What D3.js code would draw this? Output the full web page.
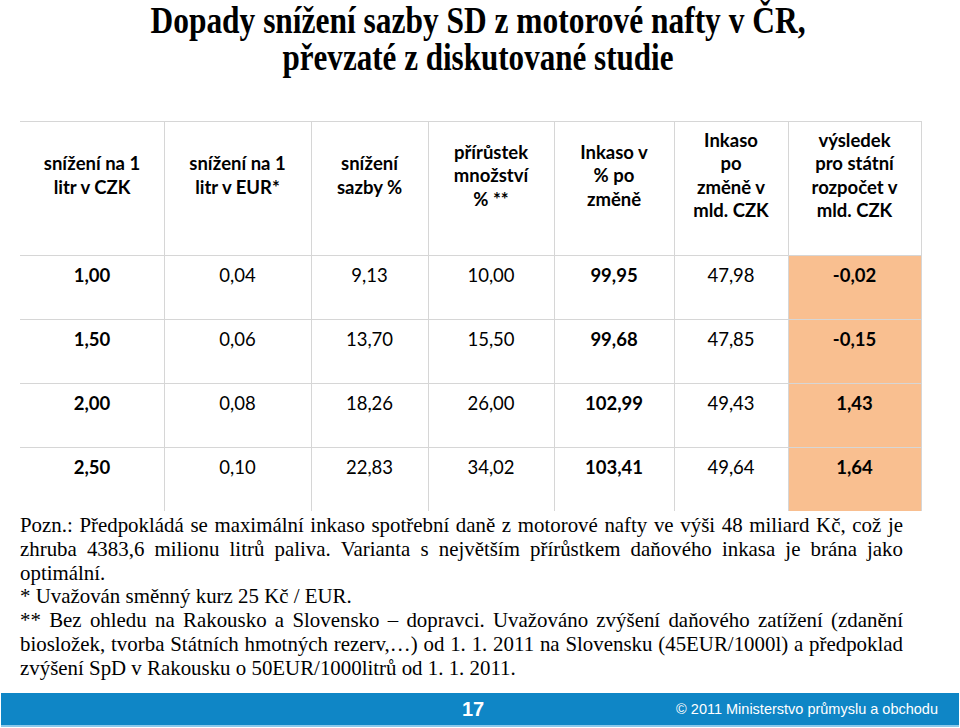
<!DOCTYPE html>
<html><head><meta charset="utf-8">
<script src="https://cdn.jsdelivr.net/npm/d3@7"></script>
<style>body{margin:0;background:#fff}svg{display:block}</style>
</head><body><div id="c"></div>
<script>
// ---------- data ----------
const titleLines = ["Dopady snížení sazby SD z motorové nafty v ČR,", "převzaté z diskutované studie"];
const headers = [
  ["snížení na 1", "litr v CZK"],
  ["snížení na 1", "litr v EUR*"],
  ["snížení", "sazby %"],
  ["přírůstek", "množství", "% **"],
  ["Inkaso v", "% po", "změně"],
  ["Inkaso", "po", "změně v", "mld. CZK"],
  ["výsledek", "pro státní", "rozpočet v", "mld. CZK"]
];
const reductionCZK     = [1.00, 1.50, 2.00, 2.50];
const reductionEUR     = [0.04, 0.06, 0.08, 0.10];
const rateReductionPct = [9.13, 13.70, 18.26, 22.83];
const volumeGrowthPct  = [10.00, 15.50, 26.00, 34.02];
const revenuePct       = [99.95, 99.68, 102.99, 103.41];
const revenueBn        = [47.98, 47.85, 49.43, 49.64];
const budgetResult     = [-0.02, -0.15, 1.43, 1.64];
const boldColumns      = [true, false, false, false, true, false, true];
const noteLines = [
  {text: "Pozn.: Předpokládá se maximální inkaso spotřební daně z motorové nafty ve výši 48 miliard Kč, což je", justify: true},
  {text: "zhruba 4383,6 milionu litrů paliva. Varianta s největším přírůstkem daňového inkasa je brána jako", justify: true},
  {text: "optimální.", justify: false},
  {text: "* Uvažován směnný kurz 25 Kč / EUR.", justify: false},
  {text: "** Bez ohledu na Rakousko a Slovensko – dopravci. Uvažováno zvýšení daňového zatížení (zdanění", justify: true},
  {text: "biosložek, tvorba Státních hmotných rezerv,…) od 1. 1. 2011 na Slovensku (45EUR/1000l) a předpoklad", justify: true},
  {text: "zvýšení SpD v Rakousku o 50EUR/1000litrů od 1. 1. 2011.", justify: false}
];
const pageNumber = "17";
const copyright = "© 2011 Ministerstvo průmyslu a obchodu";

// ---------- layout ----------
const W = 960, H = 728;
const colEdges = [20, 164, 311, 428, 554, 674, 788, 921];
const tableTop = 121, headerBottom = 255, tableBottom = 511;
const gridColor = "#d6d6d6";
const highlight = "#f9bf90";

const columns = [reductionCZK, reductionEUR, rateReductionPct, volumeGrowthPct, revenuePct, revenueBn, budgetResult];
const fmt = d3.formatLocale({decimal: ",", thousands: " ", grouping: [3], currency: ["", " Kč"], minus: "-"}).format(".2f");

const svg = d3.select("#c").append("svg").attr("width", W).attr("height", H);
svg.append("rect").attr("width", W).attr("height", H).attr("fill", "#fff");

// title
const titleG = svg.append("g").attr("font-family", "'Liberation Serif','Times New Roman',serif")
  .attr("font-weight", "bold").attr("font-size", 37).attr("fill", "#000");
const titleSpec = [{y: 33, len: 655}, {y: 70, len: 391}];
titleLines.forEach((t, i) => {
  titleG.append("text").attr("x", 478).attr("y", titleSpec[i].y).attr("text-anchor", "middle")
    .attr("textLength", titleSpec[i].len).attr("lengthAdjust", "spacingAndGlyphs").text(t);
});

// scales
const rows = d3.scaleBand().domain(d3.range(reductionCZK.length)).range([headerBottom, tableBottom]);
const colIdx = d3.range(columns.length);
const colLeft = i => colEdges[i], colRight = i => colEdges[i + 1];
const colMid = i => (colEdges[i] + colEdges[i + 1]) / 2;

// highlight column
svg.append("rect").attr("x", colLeft(6)).attr("y", headerBottom)
  .attr("width", colRight(6) - colLeft(6)).attr("height", tableBottom - headerBottom).attr("fill", highlight);

// grid
const grid = svg.append("g").attr("stroke", gridColor).attr("stroke-width", 1).attr("shape-rendering", "crispEdges");
[tableTop, headerBottom, ...rows.domain().slice(1).map(r => rows(r))].forEach(y => {
  grid.append("line").attr("x1", colEdges[0]).attr("x2", colEdges[colEdges.length - 1]).attr("y1", y + 0.5).attr("y2", y + 0.5);
});
colEdges.slice(1).forEach(x => {
  grid.append("line").attr("x1", x + 0.5).attr("x2", x + 0.5).attr("y1", tableTop).attr("y2", tableBottom);
});

// header text
const hg = svg.append("g").attr("font-family", "Lato,'Open Sans',sans-serif").attr("font-weight", "bold")
  .attr("font-size", 18.5).attr("fill", "#000").attr("text-anchor", "middle");
const lineH = 23.5, headerMid = 176;
headers.forEach((lines, i) => {
  const t = hg.append("text").attr("x", colMid(i));
  lines.forEach((ln, k) => {
    t.append("tspan").attr("x", colMid(i))
      .attr("y", headerMid + (k - (lines.length - 1) / 2) * lineH + 6).text(ln);
  });
});

// body text
const bg = svg.append("g").attr("font-family", "Lato,'Open Sans',sans-serif")
  .attr("font-size", 18.5).attr("fill", "#000").attr("text-anchor", "middle");
colIdx.forEach(i => {
  bg.selectAll(null).data(columns[i]).join("text")
    .attr("x", colMid(i))
    .attr("y", (d, r) => rows(r) + 27)
    .attr("font-weight", boldColumns[i] ? "bold" : "normal")
    .text(d => fmt(d));
});

// notes
const sx = 0.95;
const ng = svg.append("g").attr("transform", `scale(${sx},1)`)
  .attr("font-family", "'Liberation Serif','Times New Roman',serif").attr("font-size", 22).attr("fill", "#000");
const measure = ng.append("text").attr("visibility", "hidden");
const spaceW = (() => {
  measure.text("a a"); const a = measure.node().getComputedTextLength();
  measure.text("aa"); const b = measure.node().getComputedTextLength();
  return a - b;
})();
const noteX0 = 20, noteX1 = 903, noteY0 = 532, noteStep = 23.8;
noteLines.forEach((ln, li) => {
  const words = ln.text.split(" ");
  const t = ng.append("text").attr("y", noteY0 + li * noteStep);
  const spans = words.map(w => t.append("tspan").text(w));
  const widths = spans.map(s => s.node().getComputedTextLength());
  const total = d3.sum(widths);
  const target = (noteX1 - noteX0) / sx;
  const gap = ln.justify ? (target - total) / (words.length - 1) : spaceW;
  let x = noteX0 / sx;
  spans.forEach((s, k) => { s.attr("x", x); x += widths[k] + gap; });
});
measure.remove();

// footer
svg.append("rect").attr("x", 1).attr("y", 693).attr("width", W - 2).attr("height", 32).attr("fill", "#0f86c6");
svg.append("rect").attr("x", 1).attr("y", 725).attr("width", W - 2).attr("height", 2).attr("fill", "#8cc8ea");
svg.append("text").attr("x", 473).attr("y", 716).attr("text-anchor", "middle")
  .attr("font-family", "'Liberation Sans',Arial,sans-serif").attr("font-weight", "bold").attr("font-size", 20)
  .attr("fill", "#fff").text(pageNumber);
svg.append("text").attr("x", 938).attr("y", 714).attr("text-anchor", "end")
  .attr("font-family", "'Liberation Sans',Arial,sans-serif").attr("font-size", 14.5)
  .attr("fill", "#fff").text(copyright);
</script></body></html>
